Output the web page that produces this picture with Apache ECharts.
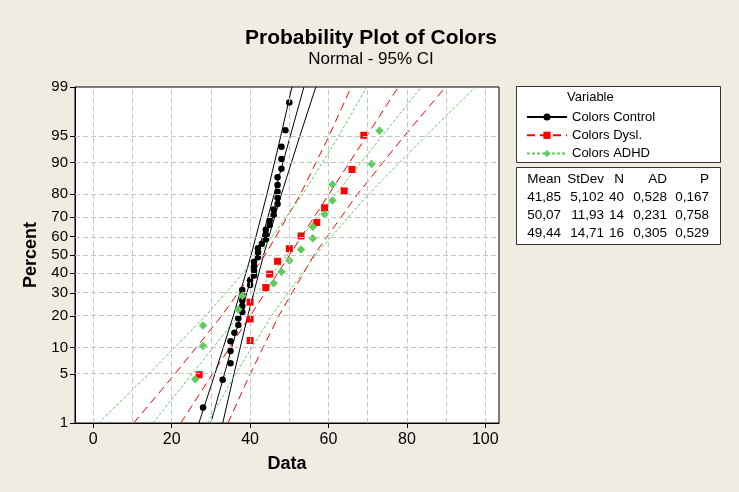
<!DOCTYPE html>
<html>
<head>
<meta charset="utf-8">
<script src="https://cdn.jsdelivr.net/npm/echarts@6/dist/echarts.min.js"></script>
<style>
  html, body { margin: 0; padding: 0; background: #f0ece2; }
  #chart { width: 739px; height: 492px; }
</style>
</head>
<body>
<div id="chart"></div>
<script>
var controlData = [28, 33, 35, 35, 35, 36, 37, 37, 38, 38, 38, 38, 38, 40, 40, 41, 41, 41, 41, 42,
                   42, 42, 43, 44, 44, 44, 45, 45, 46, 46, 47, 47, 47, 47, 47, 48, 48, 48, 49, 50];
var dyslData = [27, 40, 40, 40, 44, 45, 47, 50, 53, 57, 59, 64, 66, 69];
var adhdData = [26, 28, 28, 37, 38, 46, 48, 50, 53, 56, 56, 59, 61, 61, 71, 73];

// fitted line and 95% CI, x values read at these percents
var bandPct = [1, 5, 20, 50, 80, 95, 99];
var controlFit = [29.98, 33.46, 37.56, 41.85, 46.14, 50.24, 53.72];
var controlLow = [26.94, 31.03, 35.72, 40.27, 44.30, 47.81, 50.68];
var controlHigh = [33.02, 35.89, 39.40, 43.43, 47.98, 52.67, 56.76];
var dyslFit = [22.32, 30.45, 40.03, 50.07, 60.11, 69.69, 77.82];
var dyslLow = [10.29, 20.86, 32.76, 43.82, 52.84, 60.10, 65.79];
var dyslHigh = [34.35, 40.03, 47.30, 56.32, 67.38, 79.28, 89.85];
var adhdFit = [15.22, 25.24, 37.06, 49.44, 61.82, 73.64, 83.66];
var adhdLow = [1.34, 14.19, 28.67, 42.23, 53.43, 62.58, 69.78];
var adhdHigh = [29.10, 36.30, 45.45, 56.65, 70.21, 84.70, 97.54];

var pctTicks = [1, 5, 10, 20, 30, 40, 50, 60, 70, 80, 90, 95, 99];
var xTicks = [0, 20, 40, 60, 80, 100];
var xGrid = [0, 10, 20, 30, 40, 50, 60, 70, 80, 90, 100];

var statHeader = ['Mean', 'StDev', 'N', 'AD', 'P'];
var statRows = [
    ['41,85', '5,102', '40', '0,528', '0,167'],
    ['50,07', '11,93', '14', '0,231', '0,758'],
    ['49,44', '14,71', '16', '0,305', '0,529']
];

var FONT = '"Liberation Sans", Arial, sans-serif';

// inverse normal cdf (Acklam), used for the probability scale
function probit(p) {
    var a = [-39.69683028665376, 220.9460984245205, -275.9285104469687, 138.3577518672690, -30.66479806614716, 2.506628277459239];
    var b = [-54.47609879822406, 161.5858368580409, -155.6989798598866, 66.80131188771972, -13.28068155288572];
    var c = [-0.007784894002430293, -0.3223964580411365, -2.400758277161838, -2.549732539343734, 4.374664141464968, 2.938163982698783];
    var d = [0.007784695709041462, 0.3224671290700398, 2.445134137142996, 3.754408661907416];
    var q, r;
    if (p < 0.02425) {
        q = Math.sqrt(-2 * Math.log(p));
        return (((((c[0] * q + c[1]) * q + c[2]) * q + c[3]) * q + c[4]) * q + c[5]) /
            ((((d[0] * q + d[1]) * q + d[2]) * q + d[3]) * q + 1);
    }
    if (p > 1 - 0.02425) {
        return -probit(1 - p);
    }
    q = p - 0.5;
    r = q * q;
    return (((((a[0] * r + a[1]) * r + a[2]) * r + a[3]) * r + a[4]) * r + a[5]) * q /
        (((((b[0] * r + b[1]) * r + b[2]) * r + b[3]) * r + b[4]) * r + 1);
}

// median rank plotting positions
function points(arr) {
    var n = arr.length;
    return arr.map(function(v, i) {
        return [v, probit((i + 1 - 0.3) / (n + 0.4))];
    });
}
function band(xs) {
    return xs.map(function(v, i) {
        return [v, probit(bandPct[i] / 100)];
    });
}

var zTicks = pctTicks.map(function(p) { return probit(p / 100); });

function lineSeries(name, xs, color, dash, symbol) {
    return {
        type: 'line',
        name: name,
        data: band(xs),
        showSymbol: false,
        symbol: symbol,
        itemStyle: { color: color, opacity: 1 },
        lineStyle: { color: color, width: 1, type: dash },
        silent: true,
        z: 3
    };
}
function pointSeries(name, arr, color, symbol, size) {
    return {
        type: 'scatter',
        name: name,
        data: points(arr),
        symbol: symbol,
        symbolSize: size,
        itemStyle: { color: color, opacity: 1 },
        silent: true,
        z: 4
    };
}

var BLACK = '#000000', RED = '#ff0000', GREEN = '#5fcc5f';
var redDash = [8, 5], greenDash = [3, 2];

var series = [
    {
        type: 'line',
        name: 'grid',
        data: [],
        silent: true,
        z: 1,
        markLine: {
            silent: true,
            symbol: ['none', 'none'],
            label: { show: false },
            animation: false,
            lineStyle: { color: '#c4c4c4', type: [5, 3], width: 1 },
            data: xGrid.map(function(v) { return { xAxis: v }; })
                .concat(zTicks.map(function(v) { return { yAxis: v }; }))
        }
    },
    lineSeries('Colors Control', controlFit, BLACK, 'solid', 'circle'),
    lineSeries('Colors Dysl.', dyslFit, RED, redDash, 'rect'),
    lineSeries('Colors ADHD', adhdFit, GREEN, greenDash, 'diamond'),
    lineSeries('c-low', controlLow, BLACK, 'solid', 'none'),
    lineSeries('c-high', controlHigh, BLACK, 'solid', 'none'),
    lineSeries('d-low', dyslLow, RED, redDash, 'none'),
    lineSeries('d-high', dyslHigh, RED, redDash, 'none'),
    lineSeries('a-low', adhdLow, GREEN, greenDash, 'none'),
    lineSeries('a-high', adhdHigh, GREEN, greenDash, 'none'),
    pointSeries('Control', controlData, BLACK, 'circle', 6.5),
    pointSeries('Dysl.', dyslData, RED, 'rect', 7),
    pointSeries('ADHD', adhdData, GREEN, 'diamond', 8.5)
];

// stats table and legend header
var colRight = [561, 604, 624, 667, 709];
var graphics = [
    { type: 'rect', shape: { x: 516.5, y: 86.5, width: 204, height: 76 },
      style: { fill: '#ffffff', stroke: '#333333', lineWidth: 1 }, z: 0 },
    { type: 'rect', shape: { x: 516.5, y: 167.5, width: 204, height: 77 },
      style: { fill: '#ffffff', stroke: '#333333', lineWidth: 1 }, z: 0 },
    { type: 'text', x: 567, y: 97, z: 5,
      style: { text: 'Variable', font: '13px ' + FONT, fill: '#000', verticalAlign: 'middle' } }
];
statHeader.forEach(function(h, j) {
    graphics.push({ type: 'text', x: colRight[j], y: 179, z: 5,
        style: { text: h, font: '13.5px ' + FONT, fill: '#000', align: 'right', verticalAlign: 'middle' } });
});
statRows.forEach(function(row, i) {
    row.forEach(function(t, j) {
        graphics.push({ type: 'text', x: colRight[j], y: 197 + i * 18.3, z: 5,
            style: { text: t, font: '13.5px ' + FONT, fill: '#000', align: 'right', verticalAlign: 'middle' } });
    });
});

var chart = echarts.init(document.getElementById('chart'));
chart.setOption({
    backgroundColor: '#f0ece2',
    animation: false,
    title: {
        text: 'Probability Plot of Colors',
        subtext: 'Normal - 95% CI',
        left: 366,
        textAlign: 'center',
        top: 23,
        itemGap: 2,
        textStyle: { fontFamily: FONT, fontSize: 21, fontWeight: 'bold', color: '#000' },
        subtextStyle: { fontFamily: FONT, fontSize: 17, color: '#000' }
    },
    legend: {
        data: ['Colors Control', 'Colors Dysl.', 'Colors ADHD'],
        orient: 'vertical',
        left: 521,
        top: 104,
        itemWidth: 40,
        itemHeight: 9,
        itemGap: 2.3,
        selectedMode: false,
        textStyle: { fontFamily: FONT, fontSize: 13, color: '#000', lineHeight: 16 }
    },
    graphic: graphics,
    grid: {
        left: 75, right: 240, top: 87, bottom: 69,
        show: true, backgroundColor: '#ffffff', borderColor: '#000000', borderWidth: 1
    },
    xAxis: {
        type: 'value',
        min: -4.67,
        max: 103.49,
        name: 'Data',
        nameLocation: 'middle',
        nameGap: 32,
        nameTextStyle: { fontFamily: FONT, fontSize: 18, fontWeight: 'bold', color: '#000' },
        axisLine: { show: true, onZero: false, lineStyle: { color: '#000' } },
        axisTick: { show: true, customValues: xTicks, length: 5, lineStyle: { color: '#000' } },
        axisLabel: { customValues: xTicks, fontFamily: FONT, fontSize: 16, color: '#000', margin: 9 },
        splitLine: { show: false }
    },
    yAxis: {
        type: 'value',
        min: probit(0.01),
        max: probit(0.99),
        name: 'Percent',
        nameLocation: 'middle',
        nameGap: 34,
        nameRotate: 90,
        nameTextStyle: { fontFamily: FONT, fontSize: 18, fontWeight: 'bold', color: '#000' },
        axisLine: { show: true, onZero: false, lineStyle: { color: '#000' } },
        axisTick: { show: true, customValues: zTicks, length: 5, lineStyle: { color: '#000' } },
        axisLabel: {
            customValues: zTicks,
            fontFamily: FONT, fontSize: 15, color: '#000', margin: 7,
            formatter: function(v) {
                for (var i = 0; i < zTicks.length; ++i) {
                    if (Math.abs(zTicks[i] - v) < 1e-6) return String(pctTicks[i]);
                }
                return '';
            }
        },
        splitLine: { show: false }
    },
    series: series
});
</script>
</body>
</html>
